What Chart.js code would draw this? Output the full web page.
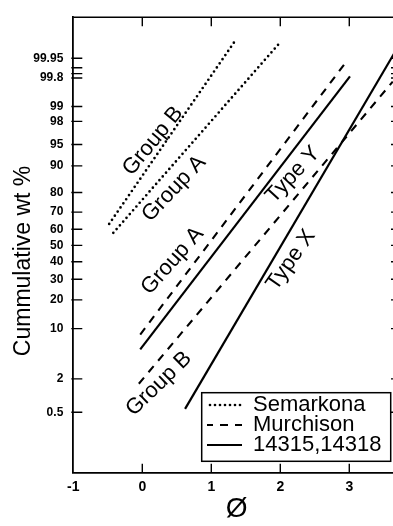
<!DOCTYPE html>
<html><head><meta charset="utf-8">
<script src="https://cdn.jsdelivr.net/npm/chart.js@4"></script>
<style>
html,body{margin:0;padding:0;background:#fff;overflow:hidden}
#wrap{width:393px;height:526px;overflow:hidden;position:relative;background:#fff}
canvas{display:block}
</style></head><body>
<div id="wrap"><canvas id="c" width="402" height="526"></canvas></div>
<script>
// ---- data ----
const xTickValues = [-1, 0, 1, 2, 3];
const yTickLabels = ['99.95','99.8','99','98','95','90','80','70','60','50','40','30','20','10','2','0.5'];
const yMinorTicks = [99.9, 99.85];
const legendNames = ['Semarkona', 'Murchison', '14315,14318'];
const lineLabels = ['Group B', 'Group A', 'Group A', 'Group B', 'Type Y', 'Type X'];

// phi (x) and cumulative wt % (y) at the two ends of each fitted line
const semarkonaB_phi = [-0.48, 1.36];
const semarkonaB_pct = [63.2, 99.990];
const semarkonaA_phi = [-0.42, 2.00];
const semarkonaA_pct = [57.8, 99.987];
const murchisonA_phi = [-0.03, 2.97];
const murchisonA_pct = [8.5, 99.941];
const murchisonB_phi = [-0.05, 3.63];
const murchisonB_pct = [1.66, 99.75];
const lunarY_phi = [-0.03, 3.01];
const lunarY_pct = [5.48, 99.821];
const lunarX_phi = [0.62, 3.69];
const lunarX_pct = [0.583, 99.977];

// ---- probability-paper axis transform ----
function probit(p){
  const a=[-39.69683028665376,220.9460984245205,-275.9285104469687,138.3577518672690,-30.66479806614716,2.506628277459239];
  const b=[-54.47609879822406,161.5858368580409,-155.6989798598866,66.80131188771972,-13.28068155288572];
  const c=[-0.007784894002430293,-0.3223964580411365,-2.400758277161838,-2.549732539343734,4.374664141464968,2.938163982698783];
  const d=[0.007784695709041462,0.3224671290700398,2.445134137142996,3.754408661907416];
  const pl=0.02425, ph=1-pl; let q, r;
  if(p<pl){ q=Math.sqrt(-2*Math.log(p)); return (((((c[0]*q+c[1])*q+c[2])*q+c[3])*q+c[4])*q+c[5])/((((d[0]*q+d[1])*q+d[2])*q+d[3])*q+1); }
  if(p<=ph){ q=p-0.5; r=q*q; return (((((a[0]*r+a[1])*r+a[2])*r+a[3])*r+a[4])*r+a[5])*q/(((((b[0]*r+b[1])*r+b[2])*r+b[3])*r+b[4])*r+1); }
  q=Math.sqrt(-2*Math.log(1-p)); return -(((((c[0]*q+c[1])*q+c[2])*q+c[3])*q+c[4])*q+c[5])/((((d[0]*q+d[1])*q+d[2])*q+d[3])*q+1);
}
// the printed paper is slightly non-uniform; small warp of the probit axis
function U(pct){ const z = probit(pct/100); return z - 0.01748*z*z - 0.00506*z*z*z; }

const FONT = "'Liberation Sans', Arial, Helvetica, sans-serif";
const STYLE = {
  dotted: {borderDash:[0,5], borderCapStyle:'round', borderWidth:2.7},
  dashed: {borderDash:[8,7], borderCapStyle:'butt', borderWidth:2.1},
  solid:  {borderDash:[], borderCapStyle:'butt', borderWidth:2.2}
};
function ds(label, phi, pct, kind){
  return Object.assign({
    label, data: phi.map((x,i)=>({x, y: U(pct[i])})),
    showLine:true, borderColor:'#000', backgroundColor:'#000',
    pointRadius:0, fill:false, tension:0
  }, STYLE[kind]);
}

const yTickPcts = yTickLabels.map(Number).concat(yMinorTicks);
const yTickText = yTickLabels.concat(yMinorTicks.map(()=>''));

const placeLegend = {
  id:'placeLegend',
  afterLayout(chart){
    const lg = chart.legend; if(!lg) return;
    lg.left = 207; lg.top = 396; lg.right = 398; lg.bottom = 472;
    lg.width = lg.right - lg.left; lg.height = lg.bottom - lg.top;
  }
};
const frameAndTicks = {
  id:'frameAndTicks',
  afterDraw(chart){
    const {ctx, chartArea:a, scales:{x, y}} = chart;
    ctx.save();
    ctx.strokeStyle = '#000';
    ctx.lineWidth = 1.6;
    ctx.beginPath();
    ctx.moveTo(a.left, a.top); ctx.lineTo(a.right, a.top); ctx.lineTo(a.right, a.bottom);
    ctx.stroke();
    ctx.lineWidth = 1.4;
    ctx.beginPath();
    x.ticks.forEach(t=>{
      if (t.value === x.min) return;
      const px = x.getPixelForValue(t.value);
      ctx.moveTo(px, a.bottom); ctx.lineTo(px, a.bottom-9);
      ctx.moveTo(px, a.top); ctx.lineTo(px, a.top+9);
    });
    y.ticks.forEach(t=>{
      const py = y.getPixelForValue(t.value);
      ctx.moveTo(a.left-2, py); ctx.lineTo(a.left+9, py);
      ctx.moveTo(a.right, py); ctx.lineTo(a.right-9, py);
    });
    ctx.stroke();
    const lg = chart.legend;
    ctx.lineWidth = 1.5;
    ctx.strokeRect(lg.left-5.3, lg.top-3.3, 189, 68.6);
    ctx.restore();
  }
};
const lineText = {
  id:'lineText',
  afterDatasetsDraw(chart){
    const {ctx, scales:{x, y}} = chart;
    // anchor (phi, axis unit) and rotation for each label
    const place = [[0.155,1.629,-50.6],[0.459,0.886,-46.7],[0.438,-0.243,-48.3],[0.242,-2.161,-44.2],[2.184,1.103,-47],[2.155,-0.227,-55]];
    ctx.save();
    ctx.fillStyle = '#000';
    ctx.font = '22px ' + FONT;
    ctx.textAlign = 'center'; ctx.textBaseline = 'middle';
    lineLabels.forEach((txt,i)=>{
      const [px, pu, ang] = place[i];
      ctx.save();
      ctx.translate(x.getPixelForValue(px), y.getPixelForValue(pu));
      ctx.rotate(ang*Math.PI/180);
      ctx.fillText(txt, 0, 0);
      ctx.restore();
    });
    ctx.restore();
  }
};

new Chart(document.getElementById('c'), {
  type:'scatter',
  data:{ datasets:[
    ds('Semarkona', semarkonaB_phi, semarkonaB_pct, 'dotted'),
    ds('Semarkona', semarkonaA_phi, semarkonaA_pct, 'dotted'),
    ds('Murchison', murchisonA_phi, murchisonA_pct, 'dashed'),
    ds('Murchison', murchisonB_phi, murchisonB_pct, 'dashed'),
    ds('14315,14318', lunarY_phi, lunarY_pct, 'solid'),
    ds('14315,14318', lunarX_phi, lunarX_pct, 'solid')
  ]},
  options:{
    responsive:false, animation:false, events:[],
    layout:{padding:{top:13, right:2, left:0, bottom:0}},
    scales:{
      x:{
        type:'linear', min:-1, max:3.735,
        afterBuildTicks:s=>{ s.ticks = xTickValues.map(v=>({value:v})); },
        afterFit:s=>{ s.height = 53.3; },
        grid:{drawOnChartArea:false, drawTicks:false},
        border:{display:true, color:'#000', width:1.8},
        ticks:{color:'#000', font:{family:FONT, size:14, weight:'bold'}, padding:6, autoSkip:false, maxRotation:0, callback:v=>String(v)},
        title:{display:true, text:'Ø', color:'#000', font:{family:FONT, size:28}, padding:{top:0, bottom:0}}
      },
      y:{
        type:'linear', min:-3.549, max:3.563,
        afterBuildTicks:s=>{ s.ticks = yTickPcts.map(p=>({value:U(p)})); },
        afterFit:s=>{ s.width = 73.3; },
        grid:{drawOnChartArea:false, drawTicks:false},
        border:{display:true, color:'#000', width:1.8},
        ticks:{color:'#000', font:{family:FONT, size:12, weight:'bold'}, padding:10, autoSkip:false, callback:(v,i)=>yTickText[i]},
        title:{display:true, text:'Cummulative wt %     ', color:'#000', font:{family:FONT, size:23}, padding:{top:10, bottom:0}}
      }
    },
    plugins:{
      tooltip:{enabled:false},
      legend:{
        display:true, position:'chartArea', fullSize:false, align:'start',
        labels:{
          usePointStyle:true, pointStyle:'line', pointStyleWidth:37, padding:-2,
          color:'#000', font:{family:FONT, size:22},
          generateLabels:(chart)=>legendNames.map(name=>{
            const i = chart.data.datasets.findIndex(d=>d.label===name);
            const d = chart.data.datasets[i];
            return {text:name, fillStyle:'#000', strokeStyle:'#000', fontColor:'#000',
              lineWidth:d.borderWidth, lineDash:d.borderDash, lineCap:d.borderCapStyle,
              pointStyle:'line', hidden:false, datasetIndex:i};
          })
        }
      }
    }
  },
  plugins:[placeLegend, frameAndTicks, lineText]
});
</script>
</body></html>
